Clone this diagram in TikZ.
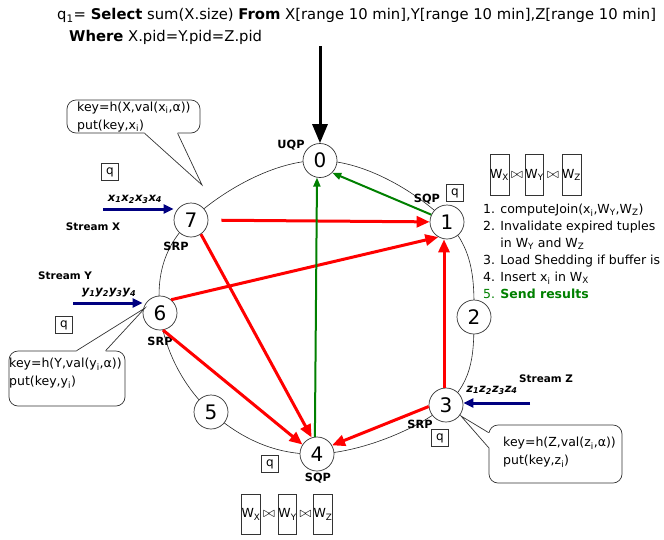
\documentclass[tikz,border=0pt]{standalone}
\usepackage{fontspec}
\setmainfont{DejaVu Sans}
\usetikzlibrary{arrows.meta,backgrounds}
\definecolor{ared}{RGB}{255,0,0}
\definecolor{agreen}{RGB}{0,128,0}
\definecolor{anavy}{RGB}{0,0,128}
\newcommand\sbs[1]{\textsubscript{#1}}
\begin{document}
\begin{tikzpicture}[x=1pt,y=-1pt,
  rn/.style={circle,draw=black!80,fill=white,minimum size=34pt,inner sep=0pt,font=\fontsize{20}{24}\selectfont,line width=0.7pt},
  role/.style={inner sep=0pt,font=\fontsize{11.3}{13}\selectfont\bfseries},
  qbox/.style={draw=black!80,fill=white,minimum size=17pt,inner sep=0pt,font=\fontsize{12}{14}\selectfont,line width=0.7pt},
  wbox/.style={draw=black!80,minimum width=17.5pt,minimum height=40.5pt,inner sep=0pt,font=\fontsize{12.5}{14}\selectfont,line width=0.7pt},
  jn/.style={inner sep=0pt,font=\fontsize{13.5}{15}\selectfont},
  txt/.style={inner sep=0pt,font=\fontsize{12.5}{18}\selectfont,align=left},
  redarr/.style={draw=ared,line width=3pt,-{Triangle[length=13pt,width=11pt]}},
  grnarr/.style={draw=agreen,line width=2pt,-{Triangle[length=9pt,width=7pt]}},
  strarr/.style={draw=anavy,line width=3pt,-{Triangle[length=10pt,width=9pt]}},
  cbox/.style={draw=black!80,fill=white,rounded corners=9pt,line width=0.7pt},
  cline/.style={draw=black!80,line width=0.7pt},
  streamlbl/.style={inner sep=0pt,font=\fontsize{10.4}{12}\selectfont\bfseries},
  inlbl/.style={inner sep=0pt,font=\fontsize{11.5}{13}\selectfont\bfseries\itshape},
]
\useasboundingbox (0,0) rectangle (664,539);

% title
\node[anchor=base west,inner sep=0pt,font=\fontsize{14.8}{18}\selectfont] (t1) at (57,19.5)
  {q\sbs{1}= \textbf{Select} sum(X.size) \textbf{From} X[range 10 min],Y[range 10 min],Z[range 10 min]};
\node[anchor=base west,inner sep=0pt,font=\fontsize{14.8}{18}\selectfont] (t2) at (69,41.5)
  {\textbf{Where} X.pid=Y.pid=Z.pid};

% ring nodes
\node[rn] (n0) at (320,160.5) {0};
\node[rn] (n1) at (447,222) {1};
\node[rn] (n2) at (474,317) {2};
\node[rn] (n3) at (446,405) {3};
\node[rn] (n4) at (317,454) {4};
\node[rn] (n5) at (211,412) {5};
\node[rn] (n6) at (160,313) {6};
\node[rn] (n7) at (191,220) {7};

\begin{scope}[on background layer]
\draw[line width=0.6pt,black!85] plot[smooth cycle,tension=0.65] coordinates
  {(n0.center) (n1.center) (n2.center) (n3.center) (n4.center) (n5.center) (n6.center) (n7.center)};
\end{scope}

% role labels
\node[role] (r0) at (291,145.5) {UQP};
\node[role] (r1) at (427,199.5) {SQP};
\node[role] (r7) at (176,246) {SRP};
\node[role] (r6) at (160,341) {SRP};
\node[role] (r3) at (420,424) {SRP};
\node[role] (r4) at (318,478.5) {SQP};

% q boxes
\node[qbox] (q1) at (455,193) {q};
\node[qbox] (q3) at (440,438) {q};
\node[qbox] (q4) at (270,464) {q};
\node[qbox] (qx) at (110,172) {q};
\node[qbox] (qy) at (64,325) {q};

% query arrow
\coordinate (qin) at (320,46);
\draw[line width=3pt,-{Triangle[length=19pt,width=15pt]}] (qin) -- (n0.north);

% red arrows
\draw[redarr,shorten <=13pt] (n7) -- (n1);
\draw[redarr] (n6.50) -- (n1.240);
\draw[redarr] ([xshift=-2pt]n3.north) -- ([xshift=-3pt]n1.south);
\draw[redarr] (n7.-55) -- (n4.108);
\draw[redarr] (n6.-80) -- (n4.147);
\draw[redarr] (n3.185) -- (n4.30);

% green arrows
\draw[grnarr] (n4.97) -- (n0.-100);
\draw[grnarr] (n1.155) -- (n0.-45);

% streams
\coordinate (sx) at (103,209);
\coordinate (sy) at (73,303);
\coordinate (sz) at (530,403);
\draw[strarr] (sx) -- (sx -| n7.west);
\draw[strarr] (sy) -- (sy -| n6.west);
\draw[strarr] (sz) -- (sz -| n3.east);
\node[streamlbl] (lsx) at (93,227) {Stream X};
\node[streamlbl] (lsy) at (65,276) {Stream Y};
\node[streamlbl] (lsz) at (546,379) {Stream Z};
\node[inlbl] (ix) at (135,199) {x\sbs{1}x\sbs{2}x\sbs{3}x\sbs{4}};
\node[inlbl] (iy) at (109,293) {y\sbs{1}y\sbs{2}y\sbs{3}y\sbs{4}};
\node[inlbl] (iz) at (492,390) {z\sbs{1}z\sbs{2}z\sbs{3}z\sbs{4}};

% callout X
\node[cbox,minimum width=133pt,minimum height=33pt] (cx) at (133.5,116.5) {};
\coordinate (tipx) at (202,185);
\fill[white] ([xshift=78pt,yshift=2pt]cx.south west) -- ([xshift=78pt]cx.south west) -- (tipx) -- ([xshift=111pt]cx.south west) -- ([xshift=111pt,yshift=2pt]cx.south west) -- cycle;
\draw[cline] ([xshift=78pt]cx.south west) -- (tipx) -- ([xshift=111pt]cx.south west);
\node[txt,anchor=west] (tx) at (77,117) {key=h(X,val(x\sbs{i},α))\\put(key,x\sbs{i})};

% callout Y
\node[cbox,minimum width=116pt,minimum height=55pt] (cy) at (67,378.5) {};
\coordinate (tipy) at (145,308);
\fill[white] ([xshift=68pt,yshift=-2pt]cy.north west) -- ([xshift=68pt]cy.north west) -- (tipy) -- ([xshift=97pt]cy.north west) -- ([xshift=97pt,yshift=-2pt]cy.north west) -- cycle;
\draw[cline] ([xshift=68pt]cy.north west) -- (tipy) -- ([xshift=97pt]cy.north west);
\node[txt,anchor=west] (ty) at (9,373.5) {key=h(Y,val(y\sbs{i},α))\\put(key,y\sbs{i})};

% callout Z
\node[cbox,minimum width=133pt,minimum height=58pt] (cz) at (555.5,454) {};
\coordinate (tipz) at (461,416);
\fill[white] ([yshift=-8pt,xshift=2pt]cz.north west) -- ([yshift=-8pt]cz.north west) -- (tipz) -- ([yshift=-23pt]cz.north west) -- ([yshift=-23pt,xshift=2pt]cz.north west) -- cycle;
\draw[cline] ([yshift=-8pt]cz.north west) -- (tipz) -- ([yshift=-23pt]cz.north west);
\node[txt,anchor=west] (tz) at (503,452.5) {key=h(Z,val(z\sbs{i},α))\\put(key,z\sbs{i})};

% join boxes top
\node[wbox] (wa1) at (499.5,175) {W\sbs{X}};
\node[jn] (ja1) at (517,175) {$\bowtie$};
\node[wbox] (wb1) at (534.5,175) {W\sbs{Y}};
\node[jn] (jb1) at (553,175) {$\bowtie$};
\node[wbox] (wc1) at (571.5,175) {W\sbs{Z}};

% join boxes bottom
\node[wbox] (wa2) at (251,514.5) {W\sbs{X}};
\node[jn] (ja2) at (269,514.5) {$\bowtie$};
\node[wbox] (wb2) at (287.5,514.5) {W\sbs{Y}};
\node[jn] (jb2) at (305.5,514.5) {$\bowtie$};
\node[wbox] (wc2) at (323,514.5) {W\sbs{Z}};

% list
\node[anchor=north west,inner sep=0pt,align=left,font=\fontsize{12.5}{17}\selectfont] (lst) at (483,204)
  {1. computeJoin(x\sbs{i},W\sbs{Y},W\sbs{Z})\\
   2. Invalidate expired tuples\\
   \hphantom{2. }in W\sbs{Y} and W\sbs{Z}\\
   3. Load Shedding if buffer is\\
   4. Insert x\sbs{i} in W\sbs{X}\\
   \textcolor{agreen}{5. \textbf{Send results}}};
\end{tikzpicture}
\end{document}
